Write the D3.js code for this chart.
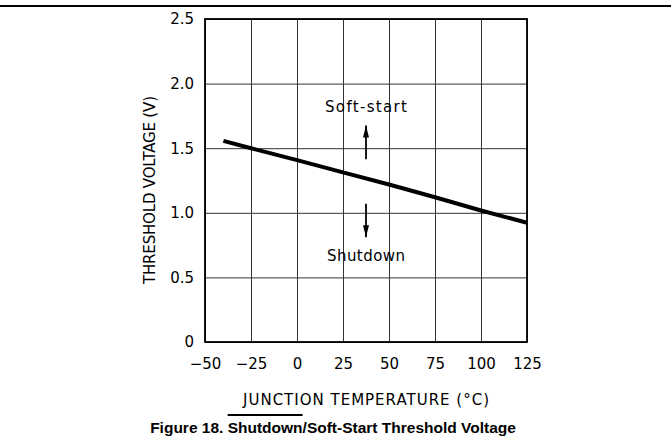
<!DOCTYPE html>
<html>
<head>
<meta charset="utf-8">
<script src="https://cdn.jsdelivr.net/npm/d3@7"></script>
<style>
  body { margin: 0; background: #fff; }
  svg { display: block; }
  .tick text, .lbl { font-family: "DejaVu Sans", sans-serif; fill: #000; }
  .tick text { font-size: 15px; }
  .lbl { font-size: 15px; }
  .cap { font-family: "Liberation Sans", Arial, sans-serif; font-size: 15.5px; font-weight: bold; fill: #000; }
</style>
</head>
<body>
<svg id="chart" width="671" height="441"></svg>
<script>
	// junction temperature (°C) vs threshold voltage (V)
	const temps = [-40, -25, 0, 25, 50, 75, 100, 125];
	const volts = [1.557, 1.50, 1.408, 1.313, 1.219, 1.12, 1.018, 0.923];
	const xTicks = [-50, -25, 0, 25, 50, 75, 100, 125];
	const yTicks = [0, 0.5, 1.0, 1.5, 2.0, 2.5];

	const svg = d3.select('#chart');
	const plotLeft = 205;
	const plotRight = 527;
	const plotTop = 19;
	const plotBottom = 342;

	const x = d3.scaleLinear().domain([-50, 125]).range([plotLeft, plotRight]);
	const y = d3.scaleLinear().domain([0, 2.5]).range([plotBottom, plotTop]);

	// rule on top of the page
	svg.append('line')
		.attr('x1', 0).attr('x2', 671)
		.attr('y1', 6).attr('y2', 6)
		.attr('stroke', '#000').attr('stroke-width', 2);

	// grid + labels
	const xAxis = svg.append('g')
		.attr('transform', `translate(0,${plotBottom})`)
		.call(d3.axisBottom(x).tickValues(xTicks).tickSize(-(plotBottom - plotTop)).tickPadding(16)
			.tickFormat((d) => (d < 0 ? '\u2212' + Math.abs(d) : String(d))));
	xAxis.select('.domain').remove();
	xAxis.selectAll('.tick line').attr('stroke', '#333').attr('stroke-width', 1);

	const yAxis = svg.append('g')
		.attr('transform', `translate(${plotLeft},0)`)
		.call(d3.axisLeft(y).tickValues(yTicks).tickSize(-(plotRight - plotLeft)).tickPadding(11)
			.tickFormat((d) => (d === 0 ? '0' : d.toFixed(1))));
	yAxis.select('.domain').remove();
	yAxis.selectAll('.tick line').attr('stroke', '#333').attr('stroke-width', 1);
	yAxis.selectAll('.tick text').attr('dy', '0.32em');

	// frame
	svg.append('rect')
		.attr('x', plotLeft).attr('y', plotTop)
		.attr('width', plotRight - plotLeft).attr('height', plotBottom - plotTop)
		.attr('fill', 'none').attr('stroke', '#000').attr('stroke-width', 1.8);

	// threshold curve
	const line = d3.line()
		.x((d, i) => x(temps[i]))
		.y((d) => y(d));
	svg.append('path')
		.datum(volts)
		.attr('d', line)
		.attr('fill', 'none')
		.attr('stroke', '#000')
		.attr('stroke-width', 4);

	// annotations
	svg.append('defs').append('marker')
		.attr('id', 'head')
		.attr('viewBox', '0 0 12 8')
		.attr('refX', 12).attr('refY', 4)
		.attr('markerWidth', 12).attr('markerHeight', 8)
		.attr('markerUnits', 'userSpaceOnUse')
		.attr('orient', 'auto')
		.append('path')
		.attr('d', 'M0,1 L12,4 L0,7 Z')
		.attr('fill', '#000');

	const ax = x(37.5);
	svg.append('line')
		.attr('x1', ax).attr('x2', ax)
		.attr('y1', y(1.415)).attr('y2', y(1.675))
		.attr('stroke', '#000').attr('stroke-width', 1.8)
		.attr('marker-end', 'url(#head)');
	svg.append('line')
		.attr('x1', ax).attr('x2', ax)
		.attr('y1', y(1.07)).attr('y2', y(0.81))
		.attr('stroke', '#000').attr('stroke-width', 1.8)
		.attr('marker-end', 'url(#head)');
	svg.append('text').attr('class', 'lbl')
		.attr('x', ax).attr('y', y(1.78))
		.attr('text-anchor', 'middle')
		.attr('textLength', 82)
		.text('Soft-start');
	svg.append('text').attr('class', 'lbl')
		.attr('x', ax).attr('y', y(0.628))
		.attr('text-anchor', 'middle')
		.attr('textLength', 78)
		.text('Shutdown');

	// axis titles
	svg.append('text').attr('class', 'lbl')
		.attr('x', (plotLeft + plotRight) / 2).attr('y', 405)
		.attr('text-anchor', 'middle')
		.attr('textLength', 246)
		.text('JUNCTION TEMPERATURE (\u00b0C)');
	svg.append('text').attr('class', 'lbl')
		.attr('transform', 'translate(155,190) rotate(-90)')
		.attr('text-anchor', 'middle')
		.attr('textLength', 188)
		.text('THRESHOLD VOLTAGE (V)');

	// caption
	const cap = svg.append('text').attr('class', 'cap')
		.attr('x', 333).attr('y', 433)
		.attr('text-anchor', 'middle');
	cap.append('tspan').text('Figure 18. ');
	cap.append('tspan').text('Shutdown');
	cap.append('tspan').text('/Soft-Start Threshold Voltage');

	// overline above "Shutdown"
	const n = cap.node();
	const start = n.getStartPositionOfChar(11);
	const end = n.getEndPositionOfChar(18);
	svg.append('line')
		.attr('x1', start.x).attr('x2', end.x)
		.attr('y1', 415).attr('y2', 415)
		.attr('stroke', '#000').attr('stroke-width', 1.8);
</script>
</body>
</html>
